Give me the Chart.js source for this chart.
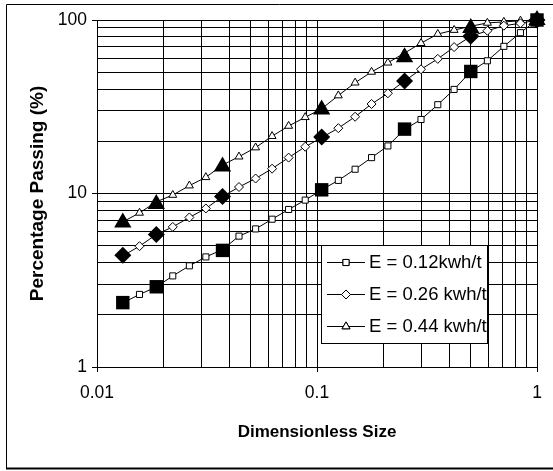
<!DOCTYPE html>
<html>
<head>
<meta charset="utf-8">
<script src="https://cdn.jsdelivr.net/npm/chart.js@4.4.0/dist/chart.umd.min.js"></script>
<style>
  html, body { margin: 0; padding: 0; background: #fff; }
  #wrap { position: relative; width: 553px; height: 471px; }
</style>
</head>
<body>
<div id="wrap"><canvas id="psd" width="553" height="471"></canvas></div>
<script>
// Dimensionless size (sieve series, coarse to fine)
const sizes = [1, 0.841, 0.707, 0.595, 0.5, 0.42, 0.354, 0.297, 0.25, 0.21, 0.177, 0.149, 0.125,
               0.105, 0.0884, 0.0743, 0.0625, 0.0526, 0.0442, 0.0372, 0.03125, 0.0263, 0.0221, 0.0186, 0.0156, 0.0131];

// Percentage passing, model curves
const passE012 = [100, 84.5, 70.5, 58.2, 50.5, 39.8, 32.5, 26.7, 23.4, 18.8, 16.1, 13.8, 11.9,
                  10.5, 9.16, 8.09, 7.11, 6.25, 5.68, 4.75, 4.31, 3.83, 3.35, 2.89, 2.62, 2.34];
const passE026 = [100, 95.7, 92.7, 86.7, 80.5, 69.8, 59.7, 52, 44.5, 37.8, 32.8, 27.7, 23.8,
                  21.0, 18.6, 16.1, 13.9, 12.2, 10.9, 9.6, 8.2, 7.28, 6.42, 5.8, 4.97, 4.37];
const passE044 = [100, 99, 97.5, 96.2, 92, 87.5, 83, 73.5, 64.5, 56.7, 50.2, 43.5, 36.7,
                  30.8, 27.5, 24.5, 21.4, 18.4, 16.3, 14.6, 12.4, 11.1, 9.8, 8.95, 7.73, 6.86];

// Measured points (filled markers)
const measSizes = [1, 0.5, 0.25, 0.105, 0.0372, 0.0186, 0.0131];
const measE012 = [100, 50.5, 23.5, 10.5, 4.7, 2.9, 2.35];
const measE026 = [100, 80.5, 44.5, 21.2, 9.6, 5.8, 4.4];
const measE044 = [100, 90, 61, 30.5, 14.3, 8.7, 6.8];

const labels = ['E = 0.12kwh/t', 'E = 0.26 kwh/t', 'E = 0.44 kwh/t'];

// Grid / tick values
const xTicks = [0.01, 0.02, 0.03, 0.04, 0.05, 0.06, 0.07, 0.08, 0.09,
                0.1, 0.2, 0.3, 0.4, 0.5, 0.6, 0.7, 0.8, 0.9, 1];
const yTicks = [1, 2, 3, 4, 5, 6, 7, 8, 9, 10, 20, 30, 40, 50, 60, 70, 80, 90, 100];
const xMajor = [0.01, 0.1, 1];
const yMajor = [1, 10, 100];

const toPoints = (xs, ys) => xs.map((x, i) => ({ x: x, y: ys[i] }));
const isMajor = (v, list) => list.some(m => Math.abs(v - m) < m * 1e-6);

const FONT = "'Liberation Sans', Arial, sans-serif";

const hollow = (label, data, style, radius) => ({
    label: label,
    data: data,
    showLine: true,
    clip: false,
    borderColor: '#000',
    borderWidth: 1,
    pointStyle: style,
    pointRadius: radius,
    pointBackgroundColor: '#fff',
    pointBorderColor: '#000',
    pointBorderWidth: 1,
    order: 2
});

const filled = (data, style, radius) => ({
    label: '',
    data: data,
    showLine: false,
    clip: false,
    pointStyle: style,
    pointRadius: radius,
    pointBackgroundColor: '#000',
    pointBorderColor: '#000',
    pointBorderWidth: 0,
    order: 1,
    inLegend: false
});

// Outer frame with a small shadow
const framePlugin = {
    id: 'frame',
    beforeDraw(chart) {
        const ctx = chart.ctx;
        ctx.save();
        ctx.fillStyle = '#fff';
        ctx.fillRect(0, 0, chart.width, chart.height);
        ctx.strokeStyle = '#000';
        ctx.lineWidth = 1;
        ctx.beginPath();
        ctx.moveTo(6.5, 468);
        ctx.lineTo(6.5, 4.5);
        ctx.lineTo(chart.width, 4.5);
        ctx.stroke();
        ctx.lineWidth = 2;
        ctx.beginPath();
        ctx.moveTo(6, 468.5);
        ctx.lineTo(chart.width, 468.5);
        ctx.stroke();
        ctx.restore();
    }
};

// Legend drawn inside the plot area
const boxLegend = {
    id: 'boxLegend',
    afterDraw(chart) {
        const ctx = chart.ctx;
        const x0 = 321, y0 = 245, w = 166, h = 98;
        ctx.save();
        ctx.fillStyle = '#fff';
        ctx.fillRect(x0, y0, w, h);
        ctx.strokeStyle = '#000';
        ctx.lineWidth = 1;
        ctx.strokeRect(x0 + 0.5, y0 + 0.5, w, h);
        ctx.font = '18.5px ' + FONT;
        ctx.textBaseline = 'middle';
        ctx.fillStyle = '#000';
        const items = chart.data.datasets.filter(d => d.inLegend !== false);
        items.forEach((ds, i) => {
            const y = y0 + 17.5 + i * 32;
            ctx.beginPath();
            ctx.moveTo(327, y);
            ctx.lineTo(365, y);
            ctx.stroke();
            Chart.helpers.drawPoint(ctx, {
                pointStyle: ds.pointStyle,
                radius: ds.pointRadius,
                borderWidth: 1
            }, 346, y);
            ctx.fillStyle = '#fff';
            ctx.fill();
            ctx.stroke();
            ctx.fillStyle = '#000';
            ctx.fillText(ds.label, 369, y);
        });
        ctx.restore();
    }
};

const chart = new Chart(document.getElementById('psd').getContext('2d'), {
    type: 'scatter',
    data: {
        datasets: [
            hollow(labels[0], toPoints(sizes, passE012), 'rect', 4.3),
            hollow(labels[1], toPoints(sizes, passE026), 'rectRot', 4.5),
            hollow(labels[2], toPoints(sizes, passE044), 'triangle', 4.6),
            filled(toPoints(measSizes, measE012), 'rect', 9.5),
            filled(toPoints(measSizes, measE026), 'rectRot', 8.5),
            filled(toPoints(measSizes, measE044), 'triangle', 10)
        ]
    },
    options: {
        responsive: false,
        animation: false,
        layout: { padding: { left: 0, right: 16, top: 20, bottom: 0 } },
        plugins: {
            legend: { display: false },
            tooltip: { enabled: false }
        },
        scales: {
            x: {
                type: 'logarithmic',
                min: 0.01,
                max: 1,
                afterBuildTicks: scale => { scale.ticks = xTicks.map(v => ({ value: v })); },
                afterFit: scale => { scale.height = 104; },
                grid: {
                    color: '#000',
                    lineWidth: 1,
                    tickLength: 5,
                    tickColor: c => (c.tick && isMajor(c.tick.value, xMajor)) ? '#000' : 'rgba(0,0,0,0)'
                },
                border: { color: '#000', width: 1 },
                ticks: {
                    autoSkip: false,
                    maxRotation: 0,
                    padding: 11,
                    color: '#000',
                    font: { family: FONT, size: 17.5 },
                    callback: v => isMajor(v, xMajor) ? String(v) : ''
                },
                title: {
                    display: true,
                    text: 'Dimensionless Size',
                    color: '#000',
                    font: { family: FONT, size: 17, weight: 'bold' },
                    padding: { top: 0, bottom: 28 }
                }
            },
            y: {
                type: 'logarithmic',
                min: 1,
                max: 100,
                afterBuildTicks: scale => { scale.ticks = yTicks.map(v => ({ value: v })); },
                afterFit: scale => { scale.width = 97; },
                grid: {
                    color: '#000',
                    lineWidth: 1,
                    tickLength: 5,
                    tickColor: c => (c.tick && isMajor(c.tick.value, yMajor)) ? '#000' : 'rgba(0,0,0,0)'
                },
                border: { color: '#000', width: 1 },
                ticks: {
                    autoSkip: false,
                    padding: 5,
                    color: '#000',
                    font: { family: FONT, size: 17.5 },
                    callback: v => isMajor(v, yMajor) ? String(v) : ''
                },
                title: {
                    display: true,
                    text: 'Percentage Passing (%)',
                    color: '#000',
                    font: { family: FONT, size: 19, weight: 'bold' },
                    padding: { top: 26, bottom: 0 }
                }
            }
        }
    },
    plugins: [framePlugin, boxLegend]
});
</script>
</body>
</html>
